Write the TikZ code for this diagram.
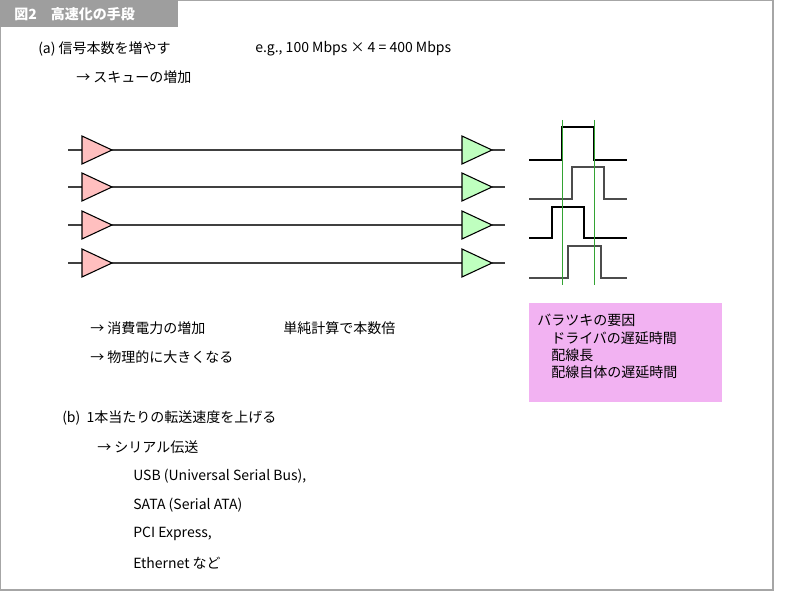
\documentclass[tikz,border=0pt]{standalone}
\usepackage{fontspec}
\setmainfont{Noto Sans CJK JP}
\begin{document}
\begin{tikzpicture}[x=0.75pt,y=-0.75pt,
  txt/.style={anchor=west,inner sep=0pt,font=\fontsize{10.5pt}{13pt}\selectfont},
  bufL/.style={draw=black,fill=red!25,line width=0.8pt},
  bufR/.style={draw=black,fill=green!25,line width=0.8pt},
  wline/.style={draw=black!75,line width=0.8pt},
  wave/.style={draw=black,line width=1pt},
  gline/.style={draw=green!55!black!80,line width=0.7pt}]
\useasboundingbox (0,0) rectangle (807,595);
\draw[black!35,line width=1pt] (0.5,0.5) rectangle (773,590);
\fill[black!38] (0,0) rectangle (178,27);
\node[txt,text=white,font=\bfseries\fontsize{10.5pt}{13pt}\selectfont] (hdr) at (14,14) {図2\quad 高速化の手段};
\node[txt] (a1) at (38,49) {(a) 信号本数を増やす};
\node[txt] (eg) at (255,49) {e.g., 100 Mbps × 4 = 400 Mbps};
\node[txt] (a2) at (76,77) {→ スキューの増加};
\foreach \i/\y in {1/150,2/187,3/225,4/263}{
  \coordinate (s\i) at (68,\y);
  \coordinate (e\i) at (505,\y);
  \draw[wline] (s\i) -- (462,\y);
  \draw[wline] (492,\y) -- (e\i);
  \draw[bufL] (82,\y-14) -- (112,\y) -- (82,\y+14) -- cycle;
  \draw[bufR] (462,\y-14) -- (492,\y) -- (462,\y+14) -- cycle;
}
\draw[wave] (529,160) -- (562,160) -- (562,127) -- (594,127) -- (594,160) -- (627,160);
\draw[wave,black!70] (529,199) -- (572,199) -- (572,167) -- (604,167) -- (604,199) -- (627,199);
\draw[wave] (529,238) -- (552,238) -- (552,207) -- (584,207) -- (584,238) -- (627,238);
\draw[wave,black!70] (529,278) -- (568,278) -- (568,246) -- (601,246) -- (601,278) -- (627,278);
\draw[gline] (562,120) -- (562,285);
\draw[gline] (594,120) -- (594,285);
\node[txt] (c1) at (90,328) {→ 消費電力の増加};
\node[txt] (c2) at (283,328) {単純計算で本数倍};
\node[txt] (c3) at (90,357) {→ 物理的に大きくなる};
\fill[violet!35!magenta!30] (529,303) rectangle (722,402);
\node[txt,align=left,anchor=north west] (v) at (537,314) {バラツキの要因\\\quad ドライバの遅延時間\\\quad 配線長\\\quad 配線自体の遅延時間};
\node[txt] (b1) at (62,418) {(b)\ \ 1本当たりの転送速度を上げる};
\node[txt] (b2) at (97,447) {→ シリアル伝送};
\node[txt] (b3) at (133,476) {USB (Universal Serial Bus),};
\node[txt] (b4) at (133,505) {SATA (Serial ATA)};
\node[txt] (b5) at (133,534) {PCI Express,};
\node[txt] (b6) at (133,563) {Ethernet など};
\end{tikzpicture}
\end{document}
